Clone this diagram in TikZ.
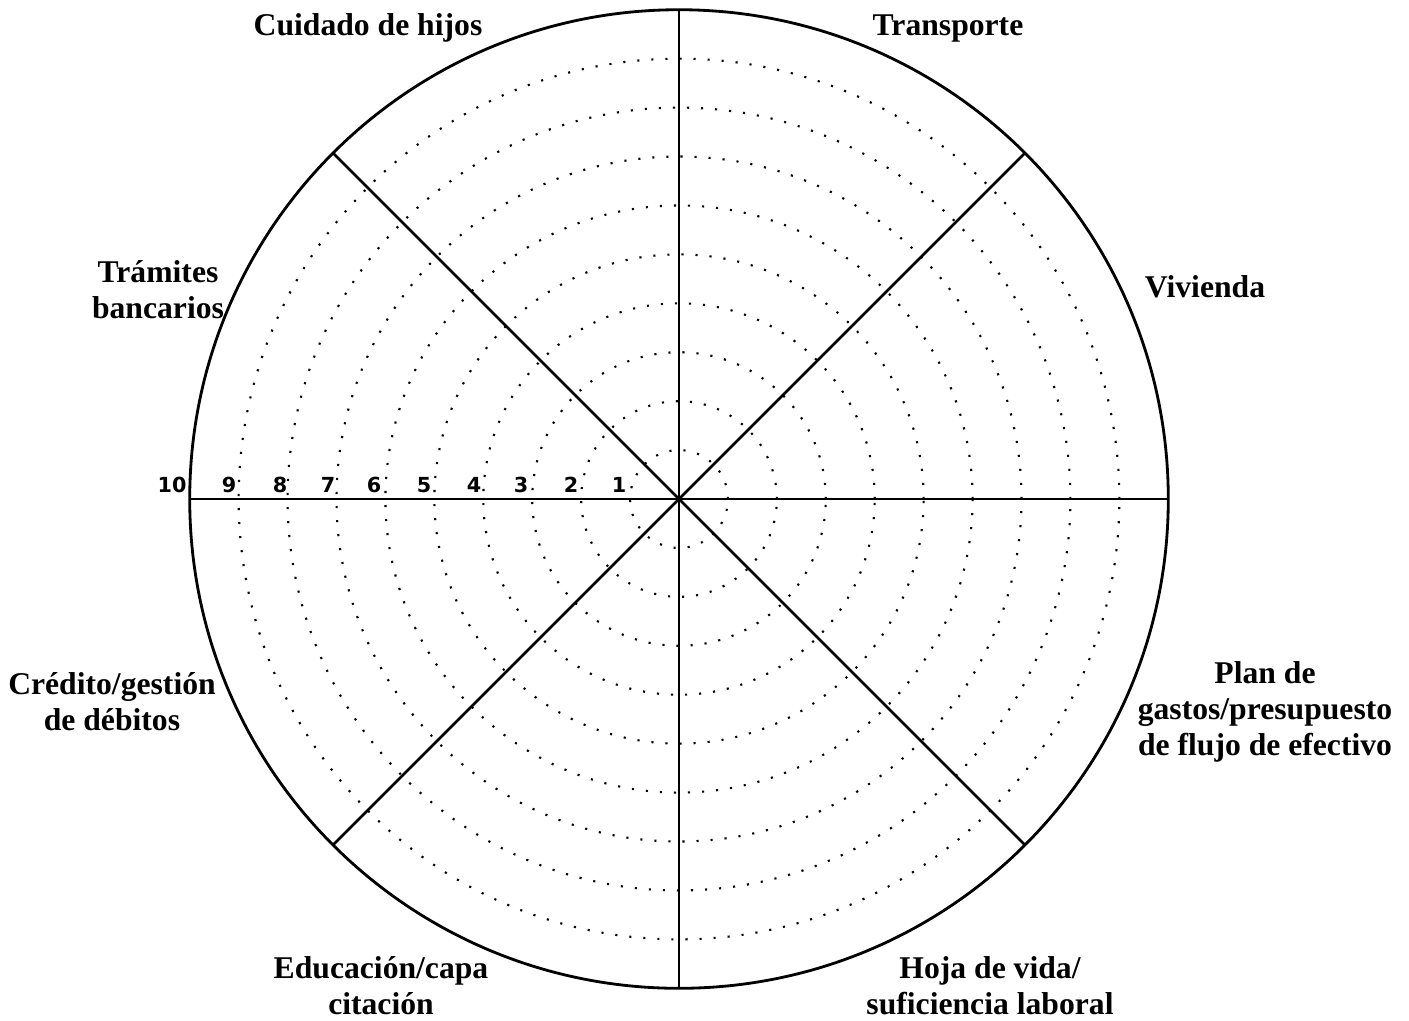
\documentclass[tikz,border=0pt]{standalone}
\usepackage{fontspec}
\usetikzlibrary{calc}
\setmainfont{Liberation Serif}
\newfontfamily\numfont{DejaVu Sans}
\begin{document}
\begin{tikzpicture}[x=0.01cm,y=-0.01cm,
  rim/.style={line width=0.8pt},
  spoke/.style={line width=0.75pt},
  ring/.style={line width=0.6pt, dash pattern=on 0.6pt off 3.4pt},
  lbl/.style={font=\fontsize{9pt}{10.24pt}\selectfont\bfseries, inner sep=0pt, anchor=base},
  num/.style={font=\numfont\bfseries\fontsize{5.9pt}{6.5pt}\selectfont, inner sep=0pt, anchor=base}]
\useasboundingbox (0,0) rectangle (1409,1020);
\coordinate (c) at (679,499);
% rings
\foreach \k in {1,...,9}{
  \draw[ring] (c) circle[radius=\k*0.489cm];
}
\draw[rim] (c) circle[radius=4.89cm];
% spokes
\foreach \a [count=\i] in {0,45,90,135,180,225,270,315}{
  \coordinate (e\i) at ($(c)+(\a:4.89cm)$);
}
\foreach \i in {1,...,8}{
  \draw[spoke] (c) -- (e\i);
}
% scale numbers
\node[num] (n10) at (172,492) {10};
\node[num] (n9) at (229,492) {9};
\node[num] (n8) at (280,492) {8};
\node[num] (n7) at (328,492) {7};
\node[num] (n6) at (374,492) {6};
\node[num] (n5) at (424,492) {5};
\node[num] (n4) at (474,492) {4};
\node[num] (n3) at (521,492) {3};
\node[num] (n2) at (571,492) {2};
\node[num] (n1) at (619,492) {1};
% labels
\node[lbl] (cuidado) at (368,35) {Cuidado de hijos};
\node[lbl] (transporte) at (948,35) {Transporte};
\node[lbl] (tramites) at (158,282) {\begin{tabular}[t]{@{}c@{}}Trámites\\bancarios\end{tabular}};
\node[lbl] (vivienda) at (1205,297) {Vivienda};
\node[lbl] (credito) at (112,694) {\begin{tabular}[t]{@{}c@{}}Crédito/gestión\\de débitos\end{tabular}};
\node[lbl] (plan) at (1265,683) {\begin{tabular}[t]{@{}c@{}}Plan de\\gastos/presupuesto\\de flujo de efectivo\end{tabular}};
\node[lbl] (educacion) at (381,978) {\begin{tabular}[t]{@{}c@{}}Educación/capa\\citación\end{tabular}};
\node[lbl] (hoja) at (990,978) {\begin{tabular}[t]{@{}c@{}}Hoja de vida/\\suficiencia laboral\end{tabular}};
\end{tikzpicture}
\end{document}
